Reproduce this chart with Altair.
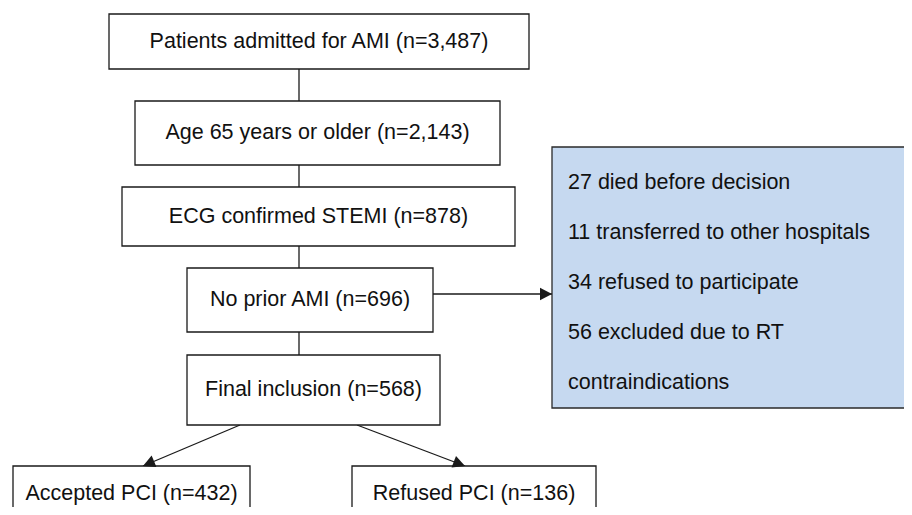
import altair as alt
import pandas as pd

# ---- content ----
box_labels = [
    "Patients admitted for AMI (n=3,487)",
    "Age 65 years or older (n=2,143)",
    "ECG confirmed STEMI (n=878)",
    "No prior AMI (n=696)",
    "Final inclusion (n=568)",
    "Accepted PCI (n=432)",
    "Refused PCI (n=136)",
]
excl_lines = [
    "27 died before decision",
    "11 transferred to other hospitals",
    "34 refused to participate",
    "56 excluded due to RT",
    "contraindications",
]

# ---- layout (image pixel coordinates) ----
box_x0 = [109, 135, 122, 187, 187, 13, 352]
box_x1 = [529, 500, 515, 433, 440, 250, 596]
box_y0 = [14, 101, 187, 268, 355, 466, 466]
box_y1 = [69, 165, 246, 332, 425, 530, 530]
box_ty = [41.5, 133, 216.5, 300, 390, 494, 494]

excl_box = dict(x0=552, x1=930, y0=147, y1=408)
excl_tx = 568
excl_ty = [183, 233, 283, 333, 383]

conn_x = [299, 299, 299, 299, 433, 240, 357]
conn_y = [69, 165, 246, 332, 294, 425, 425]
conn_x2 = [299, 299, 299, 299, 552, 143, 465]
conn_y2 = [101, 187, 268, 355, 294, 466, 466]

head_x = [552, 143, 465]
head_y = [294, 466, 466]
head_angle = [0, 157.1, 20.8]

W, H = 896, 499
xs = alt.Scale(domain=[8, 8 + W], nice=False, zero=False)
ys = alt.Scale(domain=[8 + H, 8], nice=False, zero=False)
FONT = "Liberation Sans"
FS = 21.5
LINE = "#1a1a1a"

boxes = pd.DataFrame({
    "label": box_labels, "x0": box_x0, "x1": box_x1,
    "y0": box_y0, "y1": box_y1, "ty": box_ty,
})
boxes["cx"] = (boxes["x0"] + boxes["x1"]) / 2

excl = pd.DataFrame([excl_box])
excl_text = pd.DataFrame({"label": excl_lines, "x": [excl_tx] * len(excl_lines), "y": excl_ty})
conns = pd.DataFrame({"x": conn_x, "y": conn_y, "x2": conn_x2, "y2": conn_y2})
heads = pd.DataFrame({"x": head_x, "y": head_y, "a": head_angle})

def X(f):
    return alt.X(f, type="quantitative", scale=xs, axis=None)

def Y(f):
    return alt.Y(f, type="quantitative", scale=ys, axis=None)

rect_layer = alt.Chart(boxes).mark_rect(
    fill="white", stroke=LINE, strokeWidth=1.3, clip=True
).encode(x=X("x0"), x2="x1", y=Y("y0"), y2="y1")

excl_rect = alt.Chart(excl).mark_rect(
    fill="#c6d9f0", stroke="#2a2a2a", strokeWidth=1.3, clip=True
).encode(x=X("x0"), x2="x1", y=Y("y0"), y2="y1")

lines = alt.Chart(conns).mark_rule(color=LINE, strokeWidth=1.3).encode(
    x=X("x"), y=Y("y"), x2="x2", y2="y2"
)

arrow_heads = alt.Chart(heads).mark_point(
    shape="M0,0L-1,-0.52L-1,0.52Z", filled=True, color=LINE, opacity=1, size=576
).encode(x=X("x"), y=Y("y"), angle=alt.Angle("a:Q", scale=None))

box_text = alt.Chart(boxes).mark_text(
    font=FONT, fontSize=FS, align="center", baseline="middle", color="#111"
).encode(x=X("cx"), y=Y("ty"), text="label:N")

excl_txt = alt.Chart(excl_text).mark_text(
    font=FONT, fontSize=FS, align="left", baseline="middle", color="#111"
).encode(x=X("x"), y=Y("y"), text="label:N")

chart = alt.layer(
    lines, rect_layer, excl_rect, arrow_heads, box_text, excl_txt
).properties(
    width=W, height=H, padding=0, autosize=alt.AutoSizeParams(type="none")
).configure_view(stroke=None)

chart.save("out.html", embed_options={"renderer": "svg", "actions": False})
